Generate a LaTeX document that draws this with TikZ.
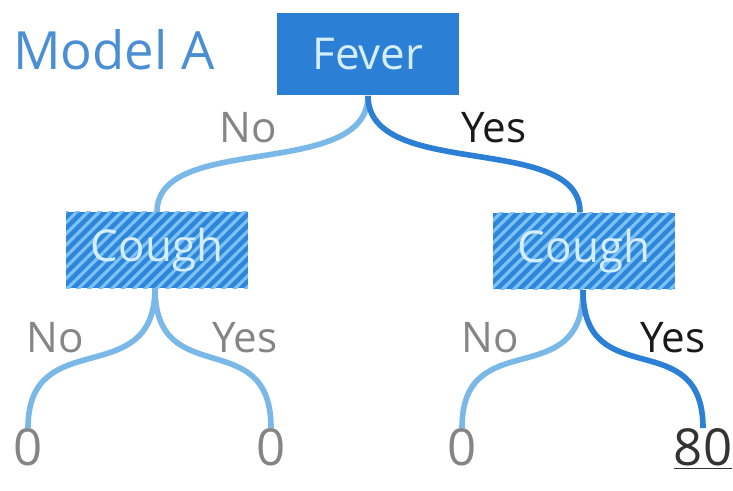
\documentclass[tikz,border=0pt]{standalone}
\usepackage{fontspec}
\setmainfont{Open Sans}
\usetikzlibrary{patterns.meta}

\definecolor{darkblue}{HTML}{2B7FD4}
\definecolor{lightpath}{HTML}{7AB8E8}
\definecolor{titleblue}{HTML}{4A8FD4}
\definecolor{hatchbase}{HTML}{2E86DA}
\definecolor{hatchline}{HTML}{7CC2F6}
\definecolor{coughtext}{HTML}{D4EEFF}
\definecolor{labelgray}{HTML}{858585}

\begin{document}
\begin{tikzpicture}[x=0.02cm, y=-0.02cm,
  splitbox/.style={fill=darkblue, text=coughtext, minimum width=3.66cm, minimum height=1.66cm, inner sep=0pt, font=\fontsize{25}{28}\selectfont},
  hatchbox/.style={fill=hatchbase, postaction={pattern={Lines[angle=45,distance=4.5pt,line width=1.8pt]}, pattern color=hatchline},
    text=coughtext, minimum width=3.64cm, minimum height=1.54cm, inner sep=0pt, font=\fontsize{25}{28}\selectfont},
  lightbranch/.style={lightpath, line width=3.2pt},
  darkbranch/.style={darkblue, line width=3.2pt},
  nolabel/.style={text=labelgray, font=\fontsize{24}{28}\selectfont},
  yeslabel/.style={text=black!90, font=\fontsize{24}{28}\selectfont},
  leafval/.style={text=labelgray, font=\fontsize{29}{32}\selectfont, inner sep=0pt, anchor=north}]
\useasboundingbox (0,0) rectangle (733,490);

\node[text=titleblue, font=\fontsize{30}{34}\selectfont] (title) at (114,50) {Model A};

\node[splitbox] (fever) at (368,54) {Fever};
\node[hatchbox] (coughL) at (157,250) {Cough};
\node[hatchbox] (coughR) at (584,251) {Cough};

\coordinate (coughLin) at (157,212);
\coordinate (coughRin) at (580,212);
\coordinate (coughLout) at (155,288);
\coordinate (coughRout) at (583,290);

% leaves
\node[leafval] (v1) at (28,428) {0};
\node[leafval] (v2) at (271,428) {0};
\node[leafval] (v3) at (462,428) {0};
\node[leafval, text=black!80] (v4) at (703,428) {\underline{80}};

% first split
\draw[lightbranch] (fever.south) .. controls +(0,85) and +(0,-80) .. (coughLin);
\draw[darkbranch] (fever.south) .. controls +(0,85) and +(0,-80) .. (coughRin);
\node[nolabel] (n0) at (248,128) {No};
\node[yeslabel] (y0) at (494,128) {Yes};

% second split
\draw[lightbranch] (coughLout) .. controls +(0,105) and +(0,-105) .. (v1.north);
\draw[lightbranch] (coughLout) .. controls +(0,105) and +(0,-105) .. (v2.north);
\draw[lightbranch] (coughRout) .. controls +(0,105) and +(0,-105) .. (v3.north);
\draw[darkbranch] (coughRout) .. controls +(0,105) and +(0,-105) .. (v4.north);
\node[nolabel] (n1) at (55,338) {No};
\node[nolabel] (y1) at (245,338) {Yes};
\node[nolabel] (n2) at (490,338) {No};
\node[yeslabel] (y2) at (673,338) {Yes};
\end{tikzpicture}
\end{document}
